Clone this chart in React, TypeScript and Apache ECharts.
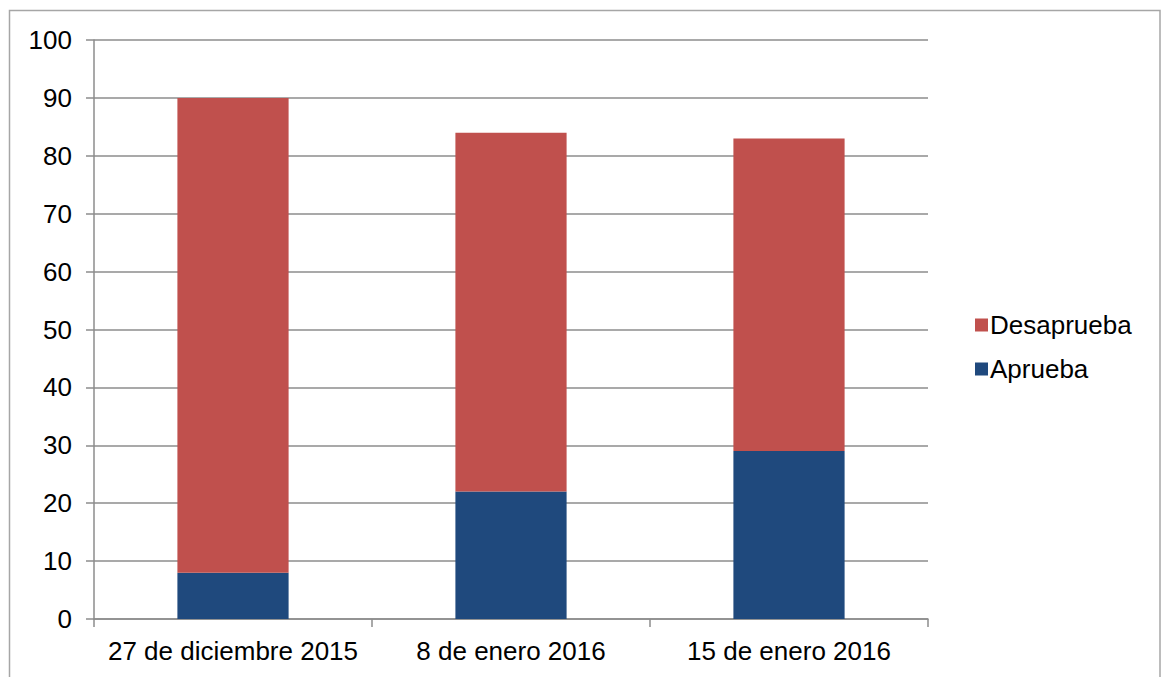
import React, { useEffect, useRef } from "react";
import * as echarts from "echarts";

const categories = ["27 de diciembre 2015", "8 de enero 2016", "15 de enero 2016"];
const aprueba = [8, 22, 29];
const desaprueba = [82, 62, 54];
const yTicks = { min: 0, max: 100, interval: 10 };

export default function App() {
  const ref = useRef<HTMLDivElement>(null);
  useEffect(() => {
    if (!ref.current) return;
    const chart = echarts.init(ref.current, undefined, { renderer: "svg" });
    const font = "'Liberation Sans', Arial, sans-serif";
    chart.setOption({
      animation: false,
      backgroundColor: "#ffffff",
      textStyle: { fontFamily: font },
      graphic: [
        {
          type: "rect",
          shape: { x: 9.5, y: 10.5, width: 1150.5, height: 700 },
          style: { fill: "none", stroke: "#a6a6a6", lineWidth: 1.5 },
          silent: true,
        },
      ],
      grid: { left: 94, right: 233, top: 40, bottom: 58, containLabel: false },
      legend: {
        orient: "vertical",
        left: 970,
        top: 307,
        itemWidth: 13,
        itemHeight: 13,
        itemGap: 18,
        icon: "rect",
        data: ["Desaprueba", "Aprueba"],
        textStyle: { fontSize: 26, color: "#000", fontFamily: font, padding: [0, 0, 0, -3] },
      },
      xAxis: {
        type: "category",
        data: categories,
        axisLine: { show: true, lineStyle: { color: "#8c8c8c", width: 1.5 } },
        axisTick: { show: true, length: 8, lineStyle: { color: "#8c8c8c", width: 1.5 } },
        axisLabel: { fontSize: 26, color: "#000", margin: 19, interval: 0, fontFamily: font },
      },
      yAxis: {
        type: "value",
        min: yTicks.min,
        max: yTicks.max,
        interval: yTicks.interval,
        axisLine: { show: true, lineStyle: { color: "#8c8c8c", width: 1.5 } },
        axisTick: { show: true, length: 8, lineStyle: { color: "#8c8c8c", width: 1.5 } },
        axisLabel: { fontSize: 26, color: "#000", margin: 22, fontFamily: font },
        splitLine: { show: true, lineStyle: { color: "#8c8c8c", width: 1.5 } },
      },
      series: [
        {
          name: "Aprueba",
          type: "bar",
          stack: "total",
          barWidth: "40%",
          data: aprueba,
          itemStyle: { color: "#1F497D" },
        },
        {
          name: "Desaprueba",
          type: "bar",
          stack: "total",
          barWidth: "40%",
          data: desaprueba,
          itemStyle: { color: "#C0504D" },
        },
      ],
    });
    return () => chart.dispose();
  }, []);
  return (
    <div
      ref={ref}
      style={{ position: "fixed", left: 0, top: 0, width: 1161, height: 677 }}
    />
  );
}
